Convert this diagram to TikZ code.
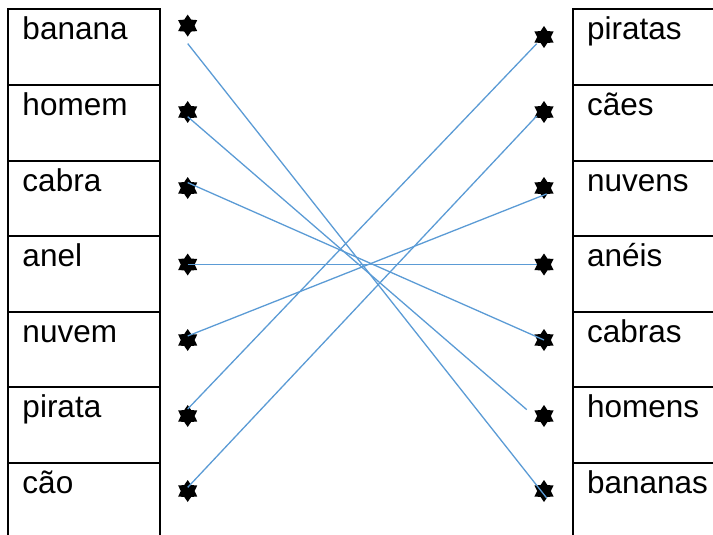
\documentclass[tikz,border=0pt]{standalone}
\usepackage{fontspec}
\setmainfont{Liberation Sans}
\usetikzlibrary{shapes.geometric, positioning}
\definecolor{lineblue}{HTML}{5B9BD5}

\begin{document}
\begin{tikzpicture}[x=1pt, y=-1pt, line width=2pt,
cell/.style={draw, rectangle, outer sep=0pt, inner ysep=0pt, align=left,
  text height=30.5pt, text depth=45pt, font=\fontsize{31.5}{36}\selectfont},
leftcell/.style={cell, text width=123pt, inner xsep=14.5pt},
rightcell/.style={cell, text width=132pt, inner xsep=14pt},
star6/.style={star, star points=6, star point ratio=1.6, fill=black,
  draw=none, minimum size=22pt, inner sep=0pt},
match/.style={draw=lineblue, line width=1.3pt}]

\useasboundingbox (0,0) rectangle (713,535);
\clip (0,0) rectangle (713,535);

% left column
\node [leftcell, anchor=north west] (banana) at (8,9.5) {banana};
\node [leftcell, below=0pt of banana] (homem) {homem};
\node [leftcell, below=0pt of homem] (cabra) {cabra};
\node [leftcell, below=0pt of cabra] (anel) {anel};
\node [leftcell, below=0pt of anel] (nuvem) {nuvem};
\node [leftcell, below=0pt of nuvem] (pirata) {pirata};
\node [leftcell, below=0pt of pirata] (cao) {cão};

% right column
\node [rightcell, anchor=north west] (piratas) at (573,9.5) {piratas};
\node [rightcell, below=0pt of piratas] (caes) {cães};
\node [rightcell, below=0pt of caes] (nuvens) {nuvens};
\node [rightcell, below=0pt of nuvens] (aneis) {anéis};
\node [rightcell, below=0pt of aneis] (cabras) {cabras};
\node [rightcell, below=0pt of cabras] (homens) {homens};
\node [rightcell, below=0pt of homens] (bananas) {bananas};

% stars
\foreach \w/\y in {banana/25.6, homem/112, cabra/188, anel/264.5,
  nuvem/340, pirata/416, cao/491}
  \node [star6] (s-\w) at (187.7,\y) {};
\foreach \w/\y in {piratas/37, caes/112, nuvens/188, aneis/264.5,
  cabras/340, homens/416, bananas/491}
  \node [star6] (s-\w) at (544,\y) {};

% matching lines
\draw [match] ([yshift=-18pt]s-banana.center) -- ([xshift=2.7pt,yshift=-7pt]s-bananas.center);
\draw [match] ([yshift=-4.7pt]s-homem.center) -- ([xshift=-17.3pt,yshift=6.4pt]s-homens.center);
\draw [match] ([yshift=5.4pt]s-cabra.center) -- (s-cabras.center);
\draw [match] (s-anel.center) -- ([xshift=-7.3pt]s-aneis.center);
\draw [match] ([yshift=4pt]s-nuvem.center) -- ([xshift=2.7pt,yshift=-5.9pt]s-nuvens.center);
\draw [match] ([yshift=7pt]s-pirata.center) -- ([xshift=-7.3pt,yshift=-6.7pt]s-piratas.center);
\draw [match] ([yshift=3.6pt]s-cao.center) -- ([xshift=-7.3pt,yshift=-4pt]s-caes.center);

\end{tikzpicture}
\end{document}
